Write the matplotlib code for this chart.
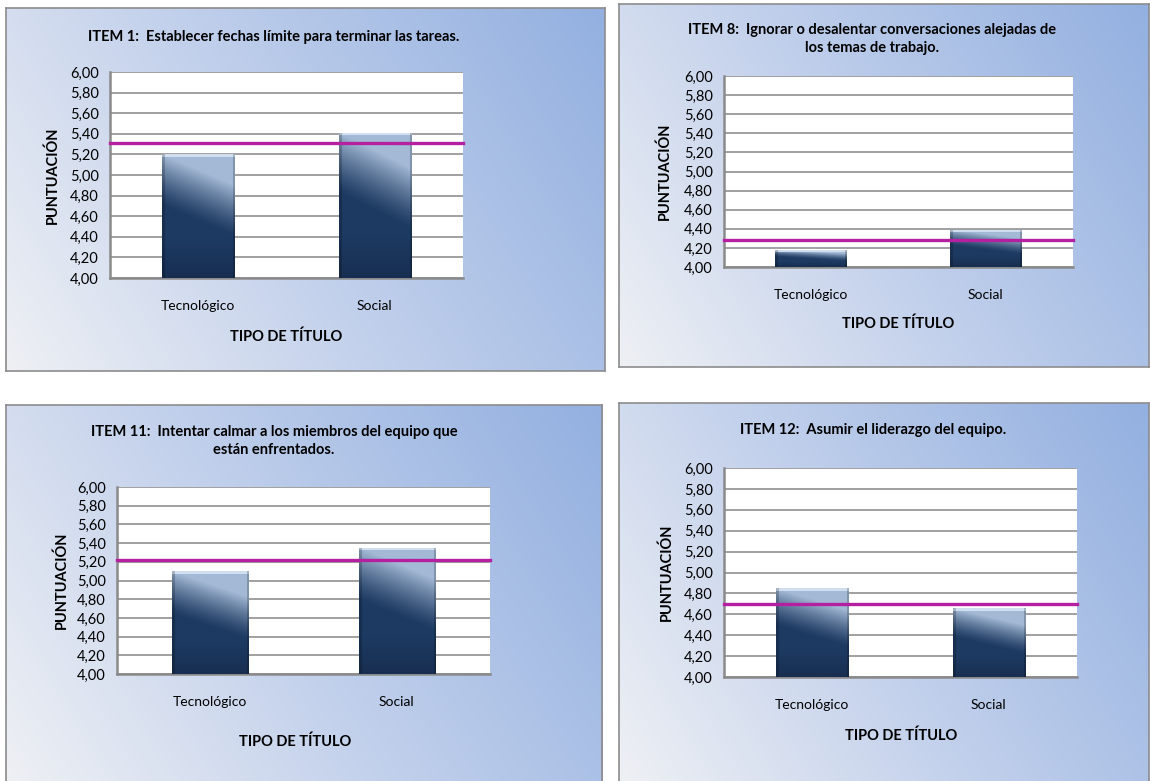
import numpy as np
import matplotlib
matplotlib.use("Agg")
import matplotlib.pyplot as plt
from matplotlib.colors import to_rgb

plt.rcParams['font.family'] = ['Lato', 'DejaVu Sans']

W, H = 1150, 781

# DATA
categories = ["Tecnológico", "Social"]
yticks = [4.0, 4.2, 4.4, 4.6, 4.8, 5.0, 5.2, 5.4, 5.6, 5.8, 6.0]
ytick_labels = ["4,00", "4,20", "4,40", "4,60", "4,80", "5,00",
                "5,20", "5,40", "5,60", "5,80", "6,00"]

title_1 = "ITEM 1:  Establecer fechas límite para terminar las tareas."
title_8 = "ITEM 8:  Ignorar o desalentar conversaciones alejadas de\nlos temas de trabajo."
title_11 = "ITEM 11:  Intentar calmar a los miembros del equipo que\nestán enfrentados."
title_12 = "ITEM 12:  Asumir el liderazgo del equipo."

item1 = [5.20, 5.41]
item1_mean = 5.31
item8 = [4.18, 4.39]
item8_mean = 4.28
item11 = [5.10, 5.35]
item11_mean = 5.22
item12 = [4.85, 4.66]
item12_mean = 4.70

ylabel = "PUNTUACIÓN"
xlabel = "TIPO DE TÍTULO"

# LAYOUT (pixels, top-left origin)
panels = [
    dict(title=title_1, vals=item1, mean=item1_mean,
         frame=(6, 8, 605, 371), plot=(110, 72, 463, 278),
         title_xy=(274, 37), ylab_x=53, xlab_xy=(286, 337)),
    dict(title=title_8, vals=item8, mean=item8_mean,
         frame=(619, 4, 1149, 367), plot=(724, 76, 1073, 267),
         title_xy=(872, 39), ylab_x=665, xlab_xy=(898, 324)),
    dict(title=title_11, vals=item11, mean=item11_mean,
         frame=(6, 405, 602, 782), plot=(117, 487, 490, 674),
         title_xy=(274, 441), ylab_x=62, xlab_xy=(295, 742)),
    dict(title=title_12, vals=item12, mean=item12_mean,
         frame=(619, 403, 1149, 782), plot=(724, 468, 1077, 677),
         title_xy=(873, 430), ylab_x=667, xlab_xy=(901, 736)),
]


def rect(box):
    x0, y0, x1, y1 = box
    return [x0 / W, 1 - y1 / H, (x1 - x0) / W, (y1 - y0) / H]


def fx(x):
    return x / W


def fy(y):
    return 1 - y / H


def background(ax, wpx, hpx):
    # diagonal gradient: light grey bottom-left -> blue top-right
    c0 = np.array(to_rgb("#eef0f4"))
    c1 = np.array(to_rgb("#c3d1ec"))
    c2 = np.array(to_rgb("#93b0e0"))
    xs = np.linspace(0, 1, 200)
    ys = np.linspace(0, 1, 150)
    X, Y = np.meshgrid(xs, ys)
    t = (X * wpx + (1 - Y) * hpx * 0.6) / (wpx + hpx * 0.6)
    t = t[..., None]
    img = np.where(t < 0.45, c0 + (c1 - c0) * (t / 0.45),
                   c1 + (c2 - c1) * ((t - 0.45) / 0.55))
    ax.imshow(img, extent=[0, 1, 0, 1], aspect="auto", origin="upper")
    ax.set_xlim(0, 1)
    ax.set_ylim(0, 1)
    ax.set_xticks([])
    ax.set_yticks([])
    for s in ax.spines.values():
        s.set_color("#8c8c8c")
        s.set_linewidth(1.2)


def bar_image(wpx, hpx):
    light = np.array(to_rgb("#a3b9d5"))
    dark = np.array(to_rgb("#1d3a62"))
    deep = np.array(to_rgb("#172d4f"))
    hi = np.array(to_rgb("#d4e4f4"))
    w = max(int(wpx), 4)
    h = max(int(hpx), 4)
    s = np.linspace(0, 1, w)[None, :]
    t = np.linspace(0, 1, h)[:, None]
    d = t - 0.25 * s
    wgt = np.clip(1 - d / 0.42, 0, 1) ** 1.3
    img = dark + (light - dark) * wgt[..., None]
    bot = np.clip((t - 0.7) / 0.3, 0, 1)
    img = img + (deep - img) * (bot[..., None] * 0.9)
    # bevel: bright thin top strip, darker side edges
    n = min(3, h - 1)
    img[:n, :] = img[:n, :] + (hi - img[:n, :]) * 0.9
    img[:, :3] = img[:, :3] * 0.8
    img[:, -2:] = img[:, -2:] * 0.8
    return np.clip(img, 0, 1)


fig = plt.figure(figsize=(W / 100, H / 100), dpi=100)

for p in panels:
    fx0, fy0, fx1, fy1 = p["frame"]
    bg = fig.add_axes(rect(p["frame"]), zorder=0)
    background(bg, fx1 - fx0, fy1 - fy0)

    ax = fig.add_axes(rect(p["plot"]), zorder=1)
    ax.set_facecolor("white")
    x = np.arange(len(categories))
    bars = ax.bar(x, np.array(p["vals"]) - 4.0, bottom=4.0, width=0.41,
                  color="none", edgecolor="none", zorder=3)
    ppx = (p["plot"][3] - p["plot"][1]) / 2.0
    pxx = (p["plot"][2] - p["plot"][0]) / 2.0
    for b in bars:
        x0 = b.get_x()
        bw = b.get_width()
        y0 = b.get_y()
        bh = b.get_height()
        img = bar_image(bw * pxx, bh * ppx)
        im = ax.imshow(img, extent=[x0, x0 + bw, y0, y0 + bh],
                       aspect="auto", origin="upper", zorder=3)
        im.set_clip_path(b)
    ax.set_aspect("auto")
    ax.set_xlim(-0.5, 1.5)
    ax.set_ylim(4.0, 6.0)

    ax.set_yticks(yticks)
    ax.set_yticklabels(ytick_labels)
    ax.set_xticks(x)
    ax.set_xticklabels(categories)
    ax.yaxis.grid(True, color="#a0a0a0", linewidth=1.4, zorder=1)
    ax.set_axisbelow(True)
    ax.tick_params(axis="both", length=0, labelsize=10.5, colors="#000000")
    ax.tick_params(axis="x", labelsize=10)
    ax.tick_params(axis="y", pad=8)
    ax.tick_params(axis="x", pad=16)
    for side in ["top", "right"]:
        ax.spines[side].set_visible(False)
    for side in ["left", "bottom"]:
        ax.spines[side].set_color("#8a8a8a")
        ax.spines[side].set_linewidth(1.8)
    ax.axhline(p["mean"], color="#b4209f", linewidth=2.4, zorder=4,
               clip_on=False)

    tx, ty = p["title_xy"]
    fig.text(fx(tx), fy(ty), p["title"], ha="center", va="center",
             fontsize=10.5, fontweight="bold", linespacing=1.45, zorder=5)
    fig.text(fx(p["ylab_x"]), (fy(p["plot"][1]) + fy(p["plot"][3])) / 2,
             ylabel, rotation=90, ha="center", va="center",
             fontsize=10.5, fontweight="bold", zorder=5)
    lx, ly = p["xlab_xy"]
    fig.text(fx(lx), fy(ly), xlabel, ha="center", va="center",
             fontsize=10.5, fontweight="bold", zorder=5)

fig.savefig("out.png", dpi=100)
